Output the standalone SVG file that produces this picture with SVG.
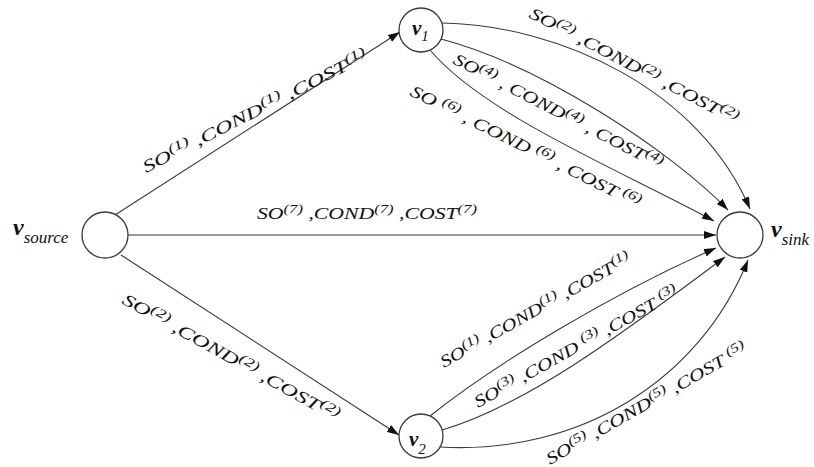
<svg xmlns="http://www.w3.org/2000/svg" width="814" height="467" viewBox="0 0 814 467">
<style>
  .edge{fill:none;stroke:#3a3a3a;stroke-width:1.1}
  .node{fill:#fff;stroke:#3a3a3a;stroke-width:1.3}
  .lbl{font-family:"Liberation Serif","Times New Roman",serif;font-style:italic;font-size:17px;fill:#111}
  .sup{font-size:13px}
  .v{font-family:"Liberation Serif","Times New Roman",serif;font-style:italic;font-weight:bold;font-size:24px;fill:#111}
  .vs{font-family:"Liberation Serif","Times New Roman",serif;font-style:italic;font-size:17px;fill:#111}
  .v1{font-family:"Liberation Serif","Times New Roman",serif;font-style:italic;font-weight:bold;font-size:21px;fill:#111}
  .vs1{font-family:"Liberation Serif","Times New Roman",serif;font-style:italic;font-size:15px;fill:#111}
</style>
<defs>
  <marker id="arr" viewBox="0 0 12 8" refX="12" refY="4" markerWidth="12" markerHeight="8" markerUnits="userSpaceOnUse" orient="auto">
    <path d="M0,0 L12,4 L0,8 z" fill="#111"/>
  </marker>
</defs>
<rect width="814" height="467" fill="#fff"/>
<g id="connectors">
  <line class="edge" x1="115" y1="215" x2="400" y2="32" marker-end="url(#arr)"/>
  <line class="edge" x1="128" y1="235" x2="716" y2="235" marker-end="url(#arr)"/>
  <line class="edge" x1="121" y1="255" x2="399" y2="435" marker-end="url(#arr)"/>
  <path class="edge" d="M442,23 C560,25 700,90 750,209" marker-end="url(#arr)"/>
  <path class="edge" d="M441,39 C540,65 670,150 728,210" marker-end="url(#arr)"/>
  <path class="edge" d="M430,50 C485,115 620,170 714,221" marker-end="url(#arr)"/>
  <path class="edge" d="M430,416 C500,360 620,290 716,248" marker-end="url(#arr)"/>
  <path class="edge" d="M442,430 C530,405 640,320 725,257" marker-end="url(#arr)"/>
  <path class="edge" d="M440,447 C580,455 700,380 748,260" marker-end="url(#arr)"/>
</g>
<g id="edge-labels">
  <text class="lbl" transform="translate(146,173) rotate(-27)" textLength="250" lengthAdjust="spacingAndGlyphs">SO<tspan class="sup" dy="-6">(1)</tspan><tspan dy="6"> ,COND</tspan><tspan class="sup" dy="-6">(1)</tspan><tspan dy="6"> ,COST</tspan><tspan class="sup" dy="-6">(1)</tspan></text>
  <text class="lbl" x="257" y="219" textLength="220" lengthAdjust="spacingAndGlyphs">SO<tspan class="sup" dy="-6">(7)</tspan><tspan dy="6"> ,COND</tspan><tspan class="sup" dy="-6">(7)</tspan><tspan dy="6"> ,COST</tspan><tspan class="sup" dy="-6">(7)</tspan></text>
  <text class="lbl" transform="translate(121,303) rotate(29)" textLength="245" lengthAdjust="spacingAndGlyphs">SO<tspan class="sup" dy="-6">(2)</tspan><tspan dy="6"> ,COND</tspan><tspan class="sup" dy="-6">(2)</tspan><tspan dy="6"> ,COST</tspan><tspan class="sup" dy="-6">(2)</tspan></text>
  <text class="lbl" transform="translate(528,17) rotate(27.5)" textLength="233" lengthAdjust="spacingAndGlyphs">SO<tspan class="sup" dy="-6">(2)</tspan><tspan dy="6"> ,COND</tspan><tspan class="sup" dy="-6">(2)</tspan><tspan dy="6"> ,COST</tspan><tspan class="sup" dy="-6">(2)</tspan></text>
  <text class="lbl" transform="translate(452,63) rotate(27.3)" textLength="233" lengthAdjust="spacingAndGlyphs">SO<tspan class="sup" dy="-6">(4)</tspan><tspan dy="6"> , COND</tspan><tspan class="sup" dy="-6">(4)</tspan><tspan dy="6"> , COST</tspan><tspan class="sup" dy="-6">(4)</tspan></text>
  <text class="lbl" transform="translate(409,95) rotate(26.5)" textLength="255" lengthAdjust="spacingAndGlyphs">SO <tspan class="sup" dy="-6">(6)</tspan><tspan dy="6"> , COND </tspan><tspan class="sup" dy="-6">(6)</tspan><tspan dy="6"> , COST </tspan><tspan class="sup" dy="-6">(6)</tspan></text>
  <text class="lbl" transform="translate(444,368) rotate(-29.4)" textLength="216" lengthAdjust="spacingAndGlyphs">SO<tspan class="sup" dy="-6">(1)</tspan><tspan dy="6"> ,COND</tspan><tspan class="sup" dy="-6">(1)</tspan><tspan dy="6"> ,COST</tspan><tspan class="sup" dy="-6">(1)</tspan></text>
  <text class="lbl" transform="translate(478,408) rotate(-29.2)" textLength="231" lengthAdjust="spacingAndGlyphs">SO<tspan class="sup" dy="-6">(3)</tspan><tspan dy="6"> ,COND </tspan><tspan class="sup" dy="-6">(3)</tspan><tspan dy="6"> ,COST </tspan><tspan class="sup" dy="-6">(3)</tspan></text>
  <text class="lbl" transform="translate(550,465) rotate(-29.7)" textLength="228" lengthAdjust="spacingAndGlyphs">SO<tspan class="sup" dy="-6">(5)</tspan><tspan dy="6"> ,COND</tspan><tspan class="sup" dy="-6">(5)</tspan><tspan dy="6"> ,COST </tspan><tspan class="sup" dy="-6">(5)</tspan></text>
</g>
<g id="node-source">
  <circle class="node" cx="105" cy="235" r="23"/>
  <text x="13" y="235"><tspan class="v">v</tspan><tspan class="vs" dy="8">source</tspan></text>
</g>
<g id="node-v1">
  <circle class="node" cx="421" cy="30" r="22"/>
  <text x="412" y="35"><tspan class="v1">v</tspan><tspan class="vs1" dy="6">1</tspan></text>
</g>
<g id="node-v2">
  <circle class="node" cx="421" cy="436" r="22"/>
  <text x="409" y="446"><tspan class="v1">v</tspan><tspan class="vs1" dy="8">2</tspan></text>
</g>
<g id="node-sink">
  <circle class="node" cx="740" cy="235" r="23"/>
  <text x="771" y="237"><tspan class="v">v</tspan><tspan class="vs" dy="8">sink</tspan></text>
</g>
</svg>
